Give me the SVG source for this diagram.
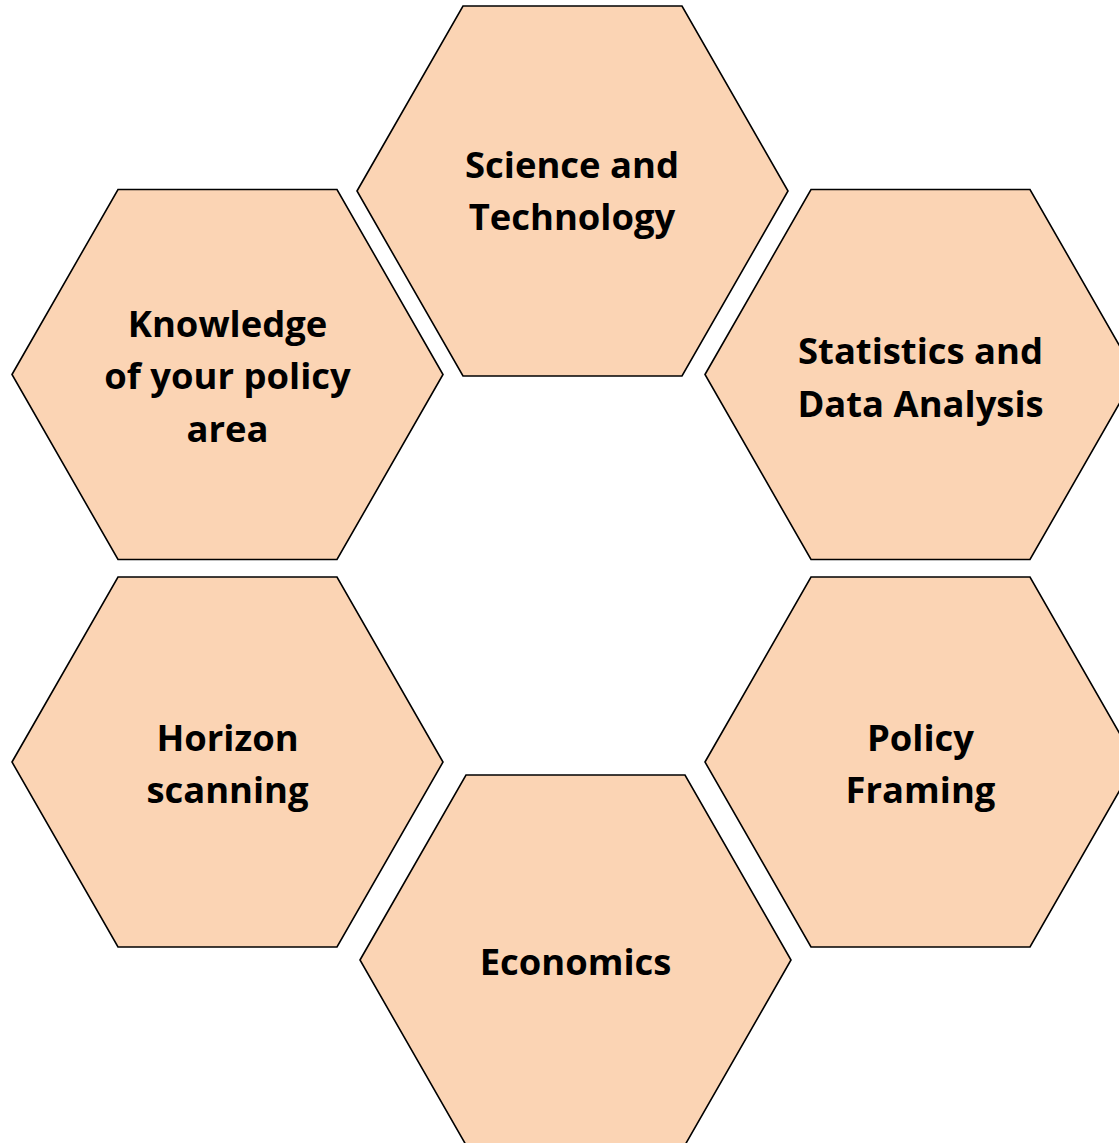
<svg xmlns="http://www.w3.org/2000/svg" width="1119" height="1143" viewBox="0 0 1119 1143">
<style>
.hex{fill:#FBD4B4;stroke:#000;stroke-width:1.6;stroke-linejoin:miter}
.lbl{font-family:"Open Sans","Liberation Sans",sans-serif;font-weight:700;font-size:36.4px;fill:#000;text-anchor:middle}
</style>
<defs>
<polygon id="hexshape" points="0,0 106,-185 325,-185 431,0 325,185 106,185"/>
</defs>
<rect width="1119" height="1143" fill="#fff"/>
<g id="connectors"></g>
<g id="node-science">
<use href="#hexshape" class="hex" x="357" y="191"/>
<text class="lbl" x="572" y="178">Science and</text>
<text class="lbl" x="572" y="230">Technology</text>
</g>
<g id="node-knowledge">
<use href="#hexshape" class="hex" x="12" y="374.5"/>
<text class="lbl" x="227.5" y="336.5">Knowledge</text>
<text class="lbl" x="227.5" y="389">of your policy</text>
<text class="lbl" x="227.5" y="441.5">area</text>
</g>
<g id="node-statistics">
<use href="#hexshape" class="hex" x="705" y="374.5"/>
<text class="lbl" x="920.5" y="364">Statistics and</text>
<text class="lbl" x="920.5" y="416.5">Data Analysis</text>
</g>
<g id="node-horizon">
<use href="#hexshape" class="hex" x="12" y="762"/>
<text class="lbl" x="227.5" y="751">Horizon</text>
<text class="lbl" x="227.5" y="803">scanning</text>
</g>
<g id="node-policy">
<use href="#hexshape" class="hex" x="705" y="762"/>
<text class="lbl" x="920.5" y="751">Policy</text>
<text class="lbl" x="920.5" y="803">Framing</text>
</g>
<g id="node-economics">
<use href="#hexshape" class="hex" x="360" y="960"/>
<text class="lbl" x="575.5" y="975">Economics</text>
</g>
</svg>
